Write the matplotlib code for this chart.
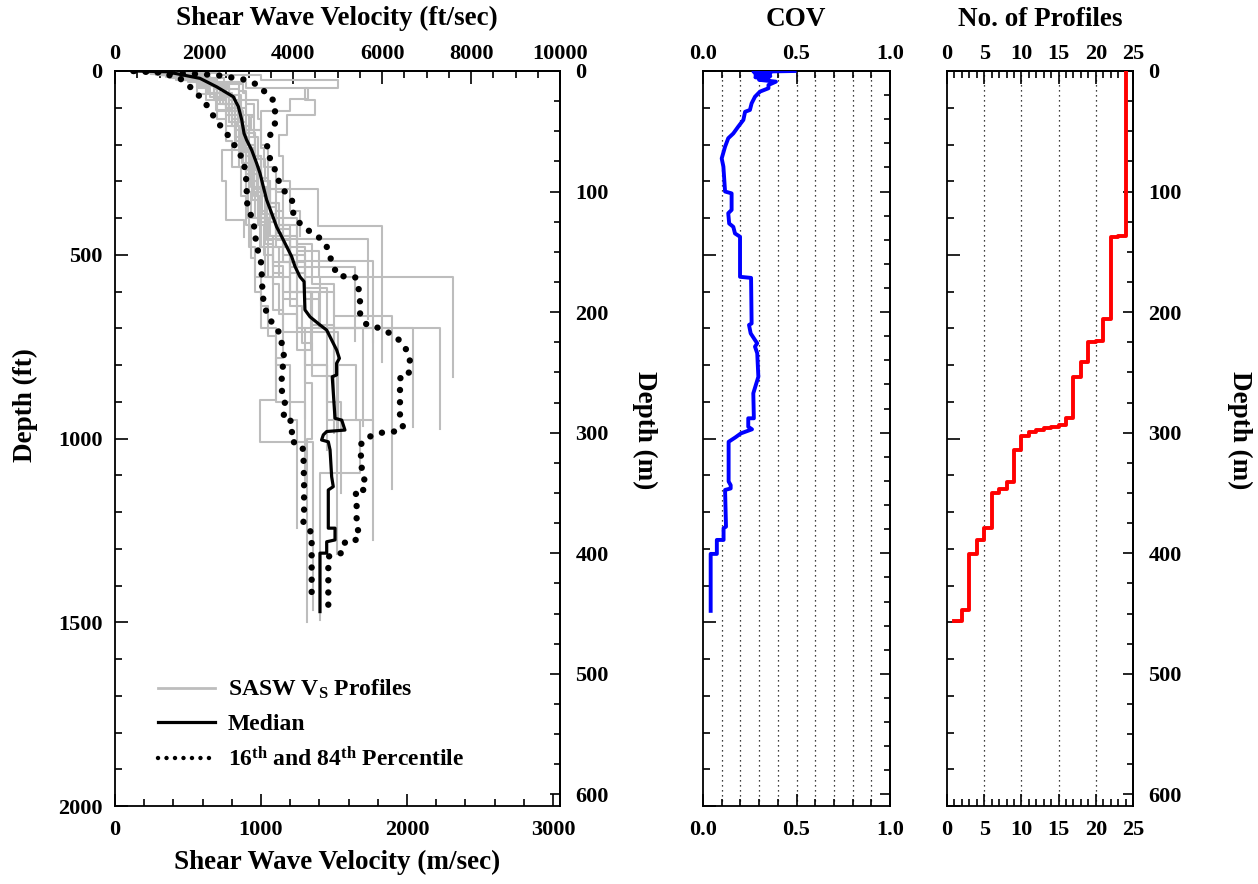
import numpy as np
import matplotlib
matplotlib.use("Agg")
import matplotlib.pyplot as plt
from matplotlib.lines import Line2D
from matplotlib.ticker import FixedLocator, FormatStrFormatter, NullFormatter

plt.rcParams["font.family"] = ["Liberation Serif", "DejaVu Serif"]
plt.rcParams["font.weight"] = "bold"
plt.rcParams["mathtext.default"] = "regular"

# ---- data (depth in ft, velocity in m/s) ----
median_depth = [0, 2, 20, 43, 70, 97, 133, 170, 188, 215, 251, 278, 315, 351, 387, 424, 451, 478,
                505, 532, 560, 573, 650, 669, 691, 705, 732, 759, 782, 795, 827, 832, 945, 950,
                977, 981, 990, 1004, 1009, 1031, 1104, 1131, 1140, 1244, 1244, 1276, 1281, 1312,
                1312, 1471]
median_vs = [150, 354, 582, 696, 810, 845, 868, 884, 902, 936, 970, 993, 1016, 1039, 1073, 1107,
             1142, 1176, 1210, 1233, 1267, 1295, 1301, 1336, 1404, 1450, 1484, 1518, 1537, 1518,
             1518, 1488, 1507, 1553, 1575, 1450, 1427, 1415, 1461, 1473, 1484, 1495, 1461, 1461,
             1507, 1507, 1450, 1450, 1404, 1404]

p16_depth = [0, 4, 20, 43, 70, 93, 115, 142, 170, 197, 220, 242, 269, 306, 351, 378, 405, 442,
             478, 505, 532, 569, 623, 659, 691, 714, 741, 768, 786, 814, 868, 904, 927, 945, 950,
             963, 986, 1009, 1013, 1031, 1122, 1204, 1231, 1244, 1258, 1449]
p16_vs = [125, 308, 445, 514, 582, 628, 662, 708, 765, 810, 845, 879, 890, 902, 902, 913, 947,
          959, 970, 993, 1005, 1005, 1016, 1039, 1084, 1130, 1142, 1153, 1164, 1142, 1142, 1164,
          1164, 1148, 1199, 1221, 1210, 1210, 1267, 1290, 1295, 1295, 1290, 1324, 1347, 1347]

p84_depth = [0, 6, 11, 23, 38, 52, 70, 79, 106, 142, 165, 197, 224, 251, 269, 297, 324, 342,
             360, 387, 405, 424, 437, 455, 478, 505, 532, 558, 560, 587, 623, 659, 691, 700, 714,
             737, 768, 791, 832, 836, 941, 954, 972, 981, 981, 990, 1004, 1022, 1068, 1095, 1127,
             1140, 1140, 1159, 1240, 1263, 1276, 1276, 1290, 1312, 1314, 1322, 1467]
p84_vs = [130, 445, 696, 879, 982, 1016, 1050, 1084, 1096, 1096, 1073, 1039, 1050, 1073, 1096,
          1119, 1153, 1199, 1221, 1221, 1244, 1290, 1336, 1404, 1450, 1473, 1495, 1530, 1644, 1667,
          1678, 1678, 1724, 1815, 1884, 1963, 2009, 2021, 2009, 1952, 1952, 1963, 1975, 1929,
          1861, 1770, 1701, 1678, 1690, 1690, 1724, 1701, 1644, 1655, 1655, 1678, 1655, 1587,
          1564, 1553, 1495, 1461, 1461]

# SASW profiles: layer boundaries (ft, last = bottom) and layer velocities (m/s)
profile_depths = [
    [0, 5, 12, 25, 47, 80, 120, 174, 230, 300, 380, 450],
    [0, 6, 15, 30, 47, 75, 110, 160, 215, 300, 405, 452],
    [0, 8, 20, 40, 70, 100, 140, 200, 260, 330, 400, 457, 676],
    [0, 6, 18, 35, 60, 90, 130, 180, 230, 280, 340, 400, 460, 532, 735],
    [0, 10, 22, 35, 60, 90, 125, 160, 210, 260, 320, 380, 450, 516, 737],
    [0, 8, 18, 30, 62, 107, 150, 215, 270, 320, 421, 791],
    [0, 8, 25, 50, 80, 120, 170, 230, 300, 360, 420, 490, 560, 833],
    [0, 10, 25, 40, 70, 100, 150, 200, 260, 320, 390, 450, 520, 600, 760, 945],
    [0, 8, 20, 35, 60, 90, 130, 180, 240, 300, 360, 430, 500, 560, 700, 965],
    [0, 12, 25, 45, 80, 120, 170, 230, 290, 360, 420, 480, 590, 700, 970],
    [0, 10, 20, 30, 55, 80, 130, 200, 260, 330, 400, 470, 580, 700, 975],
    [0, 6, 15, 25, 45, 70, 110, 150, 200, 260, 330, 400, 480, 560, 710, 977],
    [0, 10, 25, 40, 70, 100, 150, 210, 270, 340, 410, 480, 550, 620, 700, 981],
    [0, 8, 18, 30, 60, 90, 140, 190, 250, 315, 400, 500, 600, 690, 984],
    [0, 10, 22, 35, 70, 110, 160, 215, 270, 330, 400, 460, 530, 600, 700, 800, 1030],
    [0, 8, 20, 40, 80, 120, 180, 250, 320, 400, 480, 560, 640, 720, 900, 1119],
    [0, 10, 30, 50, 80, 120, 180, 240, 300, 370, 440, 520, 600, 667, 1138],
    [0, 8, 18, 30, 60, 100, 160, 230, 300, 380, 450, 520, 600, 700, 900, 1148],
    [0, 10, 25, 40, 80, 130, 190, 260, 340, 420, 510, 600, 700, 800, 950, 1243],
    [0, 8, 20, 35, 65, 100, 150, 200, 260, 320, 390, 450, 520, 600, 700, 800, 950, 1276],
    [0, 10, 25, 40, 70, 110, 160, 220, 280, 340, 410, 480, 560, 640, 740, 830, 1314],
    [0, 8, 18, 30, 60, 90, 140, 200, 260, 330, 400, 480, 560, 650, 780, 895, 1009, 1467],
    [0, 10, 22, 35, 65, 100, 150, 210, 270, 340, 400, 470, 550, 620, 700, 800, 950, 1095, 1494],
    [0, 10, 25, 40, 75, 110, 160, 220, 280, 350, 420, 500, 580, 660, 760, 850, 1000, 1500],
]
profile_vs = [
    [420, 700, 1000, 1530, 1300, 1370, 1180, 1120, 1150, 1200, 1270],
    [250, 450, 650, 900, 1324, 1200, 1000, 880, 730, 760, 884],
    [350, 520, 650, 780, 820, 850, 900, 930, 950, 1000, 1050, 1735],
    [200, 380, 560, 700, 760, 820, 860, 900, 940, 1000, 1040, 1100, 1200, 1644],
    [350, 480, 600, 880, 900, 950, 930, 1000, 1020, 1050, 1100, 1150, 1250, 1769],
    [300, 420, 500, 559, 690, 800, 850, 900, 950, 1393, 1826],
    [250, 520, 680, 780, 820, 870, 960, 1000, 1050, 1100, 1250, 1400, 2318],
    [300, 480, 620, 700, 760, 860, 900, 930, 970, 1010, 1060, 1150, 1200, 1340, 1300],
    [280, 420, 560, 680, 740, 800, 880, 960, 1000, 1060, 1120, 1200, 1300, 1404, 1700],
    [350, 560, 700, 780, 850, 920, 960, 1000, 1050, 1100, 1200, 1300, 1450, 2042],
    [400, 600, 750, 850, 900, 980, 1000, 1050, 1100, 1150, 1250, 1350, 1500, 2226],
    [220, 350, 480, 560, 650, 700, 760, 820, 850, 900, 930, 1000, 1050, 1150, 1530],
    [330, 500, 680, 760, 820, 870, 890, 960, 1000, 1030, 1100, 1200, 1300, 1400, 1770],
    [260, 400, 560, 640, 720, 780, 830, 900, 930, 1040, 1150, 1250, 1350, 1500],
    [320, 480, 640, 700, 760, 880, 900, 950, 980, 1000, 1040, 1080, 1150, 1250, 1350, 1450],
    [280, 420, 600, 680, 760, 820, 870, 900, 910, 920, 960, 1000, 1050, 1100, 1300],
    [350, 600, 720, 850, 900, 950, 980, 1030, 1060, 1100, 1150, 1300, 1500, 1895],
    [300, 460, 620, 720, 800, 860, 900, 950, 980, 1030, 1080, 1200, 1350, 1450, 1550],
    [280, 420, 560, 620, 700, 760, 800, 860, 900, 930, 960, 1000, 1100, 1200, 1244],
    [350, 520, 700, 780, 860, 900, 920, 960, 1000, 1060, 1100, 1200, 1250, 1400, 1500, 1650, 1770],
    [300, 480, 660, 740, 820, 870, 900, 940, 970, 1000, 1050, 1120, 1200, 1280, 1350, 1518],
    [250, 400, 540, 620, 700, 780, 830, 880, 920, 960, 990, 1030, 1080, 1150, 1100, 993, 1358],
    [320, 480, 640, 720, 780, 840, 880, 920, 950, 990, 1030, 1080, 1150, 1250, 1300, 1450, 1678, 1404],
    [300, 460, 600, 700, 760, 820, 860, 900, 940, 980, 1020, 1080, 1120, 1250, 1300, 1350, 1313],
]

cov_depth = [0, 2, 6, 10, 14, 17, 20, 24, 29, 38, 47, 56, 70, 88, 106, 111, 133, 151, 170, 183,
             206, 238, 260, 328, 333, 378, 387, 415, 424, 442, 451, 560, 563, 687, 691, 714, 732,
             741, 750, 768, 832, 877, 945, 945, 968, 975, 986, 997, 1009, 1117, 1127, 1136, 1140,
             1240, 1244, 1276, 1276, 1314, 1314, 1469]
cov_values = [0.49, 0.27, 0.36, 0.28, 0.36, 0.28, 0.35, 0.30, 0.39, 0.35, 0.35, 0.305, 0.278,
              0.26, 0.251, 0.225, 0.216, 0.189, 0.162, 0.135, 0.118, 0.10, 0.109, 0.118, 0.153,
              0.153, 0.135, 0.14, 0.162, 0.171, 0.198, 0.198, 0.257, 0.26, 0.246, 0.255, 0.278,
              0.29, 0.278, 0.29, 0.296, 0.269, 0.272, 0.242, 0.242, 0.262, 0.203, 0.173, 0.137,
              0.137, 0.148, 0.148, 0.118, 0.123, 0.11, 0.11, 0.074, 0.074, 0.041, 0.041]

# number of profiles: depth (m) where each count starts
count_top_m = [0, 137, 138, 206, 224, 225, 241, 254, 288, 294, 295, 296.5, 298, 299, 303, 314,
               341, 347, 350, 379, 389, 401, 447, 456]
count_values = [24, 23, 22, 21, 20, 19, 18, 17, 16, 15, 14, 13, 12, 11, 10, 9, 8, 7, 6, 5, 4, 3,
                2, 1]

M_PER_FT = 0.3048


def ft2m(d):
    return d * M_PER_FT


def m2ft(d):
    return d / M_PER_FT


def ticks(lo, hi, step):
    return FixedLocator(np.arange(lo, hi + step / 2, step))


W, H = 1258, 884
fig = plt.figure(figsize=(W / 100, H / 100), dpi=100)


def box(x0, x1, y0, y1):
    return [x0 / W, 1 - y1 / H, (x1 - x0) / W, (y1 - y0) / H]


TICK = 16
LABEL = 19.5
MAJ, MIN = 9, 5


def style_depth_axis(ax, right_minor, right_labels):
    ax.set_ylim(2000, 0)
    ax.yaxis.set_major_locator(ticks(0, 2000, 500))
    ax.yaxis.set_minor_locator(ticks(0, 2000, 100))
    ax.tick_params(axis="y", which="both", direction="in", left=True, right=False, width=1.2)
    ax.tick_params(axis="y", which="major", length=MAJ)
    ax.tick_params(axis="y", which="minor", length=MIN)
    for s in ax.spines.values():
        s.set_linewidth(1.3)
    sec = ax.secondary_yaxis("right", functions=(ft2m, m2ft))
    sec.yaxis.set_major_locator(ticks(0, 600, 100))
    sec.yaxis.set_minor_locator(ticks(0, 600, right_minor))
    sec.tick_params(which="both", direction="in", width=1.2, labelsize=TICK, pad=11)
    sec.tick_params(which="major", length=7)
    sec.tick_params(which="minor", length=4)
    sec.spines["right"].set_linewidth(1.3)
    if not right_labels:
        sec.yaxis.set_major_formatter(NullFormatter())
    return sec


def top_axis(ax, hi, major, minor, fmt=None, fwd=None, inv=None):
    if fwd is None:
        fwd, inv = (lambda v: v), (lambda v: v)
    top = ax.secondary_xaxis("top", functions=(fwd, inv))
    top.xaxis.set_major_locator(ticks(0, hi, major))
    top.xaxis.set_minor_locator(ticks(0, hi, minor))
    if fmt:
        top.xaxis.set_major_formatter(FormatStrFormatter(fmt))
    top.tick_params(which="both", direction="in", width=1.2, labelsize=TICK, pad=5)
    top.tick_params(which="major", length=MAJ)
    top.tick_params(which="minor", length=MIN)
    top.spines["top"].set_linewidth(1.3)
    return top


def bottom_ticks(ax, hi, major, minor, fmt=None):
    ax.xaxis.set_major_locator(ticks(0, hi, major))
    ax.xaxis.set_minor_locator(ticks(0, hi, minor))
    if fmt:
        ax.xaxis.set_major_formatter(FormatStrFormatter(fmt))
    ax.tick_params(axis="x", which="both", direction="in", top=False, width=1.2,
                   labelsize=TICK, pad=10)
    ax.tick_params(axis="x", which="major", length=MAJ)
    ax.tick_params(axis="x", which="minor", length=MIN)


# ---- left panel: Vs profiles ----
ax1 = fig.add_axes(box(115, 560, 71, 806))
for dd, vv in zip(profile_depths, profile_vs):
    xs, ys = [], []
    for i, v in enumerate(vv):
        xs += [v, v]
        ys += [dd[i], dd[i + 1]]
    ax1.plot(xs, ys, color="#bdbdbd", lw=1.5, zorder=1)
ax1.plot(median_vs, median_depth, color="black", lw=2.3, zorder=3)
dots = dict(color="black", lw=4.6, linestyle=(0, (0.01, 1.9)), dash_capstyle="round", zorder=2)
ax1.plot(p16_vs, p16_depth, **dots)
ax1.plot(p84_vs, p84_depth, **dots)

ax1.set_xlim(0, 10000 * M_PER_FT)
bottom_ticks(ax1, 3000, 1000, 200)
style_depth_axis(ax1, 25, True)
ax1.tick_params(axis="y", labelsize=TICK, pad=9)
top_axis(ax1, 10000, 2000, 500, fwd=lambda v: v / M_PER_FT, inv=lambda v: v * M_PER_FT)

handles = [Line2D([], [], color="#bdbdbd", lw=2),
           Line2D([], [], color="black", lw=2.3),
           Line2D([], [], color="black", lw=3.2, linestyle=(0, (0.01, 1.9)), dash_capstyle="round")]
labels = ["SASW V$_S$ Profiles", "Median", "16$^{th}$ and 84$^{th}$ Percentile"]
ax1.legend(handles, labels, loc="upper left", bbox_to_anchor=(0.071, 0.19), frameon=False,
           fontsize=17, handlelength=2.4, handletextpad=0.55, labelspacing=0.5, borderpad=0)

# ---- middle panel: COV ----
ax2 = fig.add_axes(box(703, 890, 71, 806))
ax2.plot(cov_values, cov_depth, color="#0000ff", lw=2.8, zorder=3)
ax2.set_xlim(0, 1)
bottom_ticks(ax2, 1, 0.5, 0.1, "%.1f")
top_axis(ax2, 1, 0.5, 0.1, "%.1f")
for g in [0.1, 0.2, 0.3, 0.4, 0.5, 0.6, 0.7, 0.8, 0.9]:
    ax2.axvline(g, color="black", lw=0.9, linestyle=(0, (1, 3)), zorder=1)
style_depth_axis(ax2, 20, False)
ax2.yaxis.set_major_formatter(NullFormatter())

# ---- right panel: number of profiles ----
ax3 = fig.add_axes(box(947, 1133, 71, 806))
xs, ys = [], []
ends = count_top_m[1:] + [count_top_m[-1]]
for n, t, b in zip(count_values, count_top_m, ends):
    xs += [n, n]
    ys += [m2ft(t), m2ft(b)]
ax3.plot(xs, ys, color="#ff0000", lw=2.8, zorder=3)
ax3.set_xlim(0, 25)
bottom_ticks(ax3, 25, 5, 1)
top_axis(ax3, 25, 5, 1)
for g in [5, 10, 15, 20]:
    ax3.axvline(g, color="black", lw=0.9, linestyle=(0, (1, 3)), zorder=1)
style_depth_axis(ax3, 25, True)
ax3.yaxis.set_major_formatter(NullFormatter())

# ---- titles and axis labels ----
fig.text(337 / W, 1 - 18 / H, "Shear Wave Velocity (ft/sec)", ha="center", va="center", fontsize=LABEL)
fig.text(337 / W, 1 - 862 / H, "Shear Wave Velocity (m/sec)", ha="center", va="center", fontsize=LABEL)
fig.text(796 / W, 1 - 20 / H, "COV", ha="center", va="center", fontsize=LABEL)
fig.text(1040 / W, 1 - 20 / H, "No. of Profiles", ha="center", va="center", fontsize=LABEL)
fig.text(25 / W, 1 - 405 / H, "Depth (ft)", ha="center", va="center", rotation=90, fontsize=LABEL)
fig.text(645 / W, 1 - 430 / H, "Depth (m)", ha="center", va="center", rotation=-90, fontsize=LABEL)
fig.text(1240 / W, 1 - 430 / H, "Depth (m)", ha="center", va="center", rotation=-90, fontsize=LABEL)

fig.savefig("out.png", dpi=100)
plt.close(fig)
